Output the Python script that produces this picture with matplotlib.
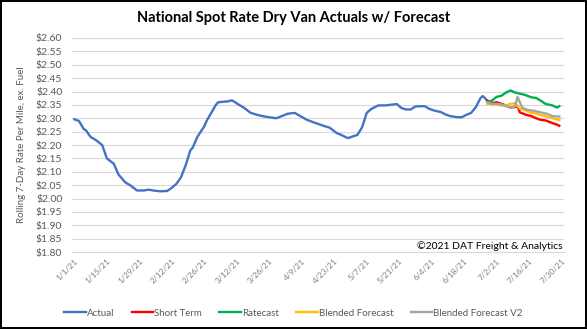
import numpy as np
import pandas as pd
import matplotlib
matplotlib.use("Agg")
import matplotlib.pyplot as plt
from matplotlib.ticker import FuncFormatter

plt.rcParams['font.family'] = ['Lato', 'DejaVu Sans']

start = pd.Timestamp('2021-01-01')

# actual rolling 7-day rate, days after 1/1/21
actual_day = [0, 2, 4, 5, 7, 9, 12, 14, 17, 19, 22, 24, 27, 30, 32, 34, 37, 40,
              42, 44, 46, 48, 50, 51, 53, 56, 57, 58, 61, 62, 66, 68, 71, 73,
              76, 78, 80, 83, 87, 90, 92, 95, 97, 100, 103, 108, 110, 113, 115,
              117, 118, 120, 122, 124, 126, 128, 131, 134, 136, 139, 141, 143,
              145, 147, 149, 151, 153, 155, 158, 160, 162, 165, 167, 169, 171,
              173, 175, 176, 177, 178]
actual_val = [2.296, 2.29, 2.26, 2.255, 2.23, 2.22, 2.20, 2.15, 2.13, 2.09, 2.06,
              2.05, 2.03, 2.03, 2.033, 2.03, 2.027, 2.028, 2.04, 2.055, 2.08,
              2.125, 2.18, 2.19, 2.23, 2.27, 2.29, 2.305, 2.35, 2.36, 2.363,
              2.367, 2.35, 2.34, 2.32, 2.315, 2.31, 2.305, 2.30, 2.31, 2.317,
              2.32, 2.31, 2.295, 2.285, 2.27, 2.265, 2.245, 2.238, 2.229, 2.226,
              2.232, 2.238, 2.266, 2.32, 2.335, 2.348, 2.348, 2.35, 2.353, 2.338,
              2.333, 2.333, 2.344, 2.345, 2.345, 2.335, 2.329, 2.323, 2.314,
              2.308, 2.304, 2.304, 2.313, 2.32, 2.341, 2.375, 2.383, 2.375, 2.364]

short_day = [178, 180, 182, 184, 186, 188, 190, 191, 192, 195, 197, 199, 201, 203, 206, 208, 209]
short_val = [2.366, 2.356, 2.36, 2.354, 2.348, 2.34, 2.342, 2.345, 2.322, 2.312, 2.308,
             2.30, 2.294, 2.292, 2.282, 2.276, 2.272]

ratecast_day = [178, 180, 182, 184, 186, 188, 190, 192, 194, 197, 199, 201, 203, 206, 208, 209]
ratecast_val = [2.36, 2.366, 2.38, 2.384, 2.396, 2.404, 2.396, 2.392, 2.388, 2.378,
                2.376, 2.366, 2.354, 2.348, 2.34, 2.345]

blend_day = [178, 180, 182, 184, 186, 188, 190, 192, 195, 197, 199, 201, 203, 206, 209]
blend_val = [2.354, 2.352, 2.352, 2.348, 2.348, 2.354, 2.356, 2.336, 2.328, 2.32,
             2.318, 2.312, 2.308, 2.30, 2.294]

blend2_day = [178, 180, 182, 184, 186, 188, 190, 191, 192, 193, 195, 198, 200, 202, 204, 206, 209]
blend2_val = [2.36, 2.354, 2.354, 2.352, 2.345, 2.34, 2.345, 2.38, 2.36, 2.34, 2.332,
              2.328, 2.324, 2.32, 2.316, 2.308, 2.306]

series = [
    ("Actual", actual_day, actual_val, "#4472C4"),
    ("Short Term", short_day, short_val, "#FF0000"),
    ("Ratecast", ratecast_day, ratecast_val, "#00B050"),
    ("Blended Forecast", blend_day, blend_val, "#FFC000"),
    ("Blended Forecast V2", blend2_day, blend2_val, "#A5A5A5"),
]

fig = plt.figure(figsize=(5.87, 3.29), dpi=100, edgecolor='black', linewidth=1.5)
ax = fig.add_axes([0.1227, 0.234, 0.838, 0.6505])

for name, d, v, c in series:
    dates = start + pd.to_timedelta(d, unit='D')
    ax.plot(dates, v, color=c, lw=1.7, label=name)

ax.set_ylim(1.80, 2.60)
ax.set_yticks(np.arange(1.80, 2.601, 0.05))
ax.yaxis.set_major_formatter(FuncFormatter(lambda v, p: f"${v:.2f}"))
ax.set_xlim(start - pd.Timedelta(days=1), start + pd.Timedelta(days=211))
ticks = pd.date_range('2021-01-01', '2021-07-30', freq='14D')
ax.set_xticks(ticks)
ax.set_xticklabels([f"{t.month}/{t.day}/{t.year % 100}" for t in ticks],
                   rotation=45, ha='right', rotation_mode='anchor')

ax.grid(axis='y', color='#D9D9D9', lw=0.8)
ax.set_axisbelow(True)
for s in ['top', 'right', 'left']:
    ax.spines[s].set_visible(False)
ax.spines['bottom'].set_color('#D9D9D9')
ax.tick_params(axis='y', length=0, pad=7, labelsize=7.5, labelcolor='#595959')
ax.tick_params(axis='x', length=0, pad=4, labelsize=6, labelcolor='#7f7f7f')

fig.text(0.5, 1 - 18 / 329, "National Spot Rate Dry Van Actuals w/ Forecast",
         ha='center', va='center', fontsize=10.5, fontweight='bold')
fig.text(22 / 587, 1 - 145 / 329, "Rolling 7-Day Rate Per Mile, ex. Fuel",
         rotation=90, ha='center', va='center', fontsize=7, color='#595959')
fig.text(563 / 587, 1 - 246 / 329, "©2021 DAT Freight & Analytics",
         ha='right', va='center', fontsize=7.5)

fig.legend(loc='center', bbox_to_anchor=(0.5, 1 - 313 / 329), ncol=5, frameon=False,
           fontsize=7, handlelength=2.2, handletextpad=0.1, columnspacing=1.8,
           labelcolor='#595959')

fig.savefig("out.png", dpi=100)
